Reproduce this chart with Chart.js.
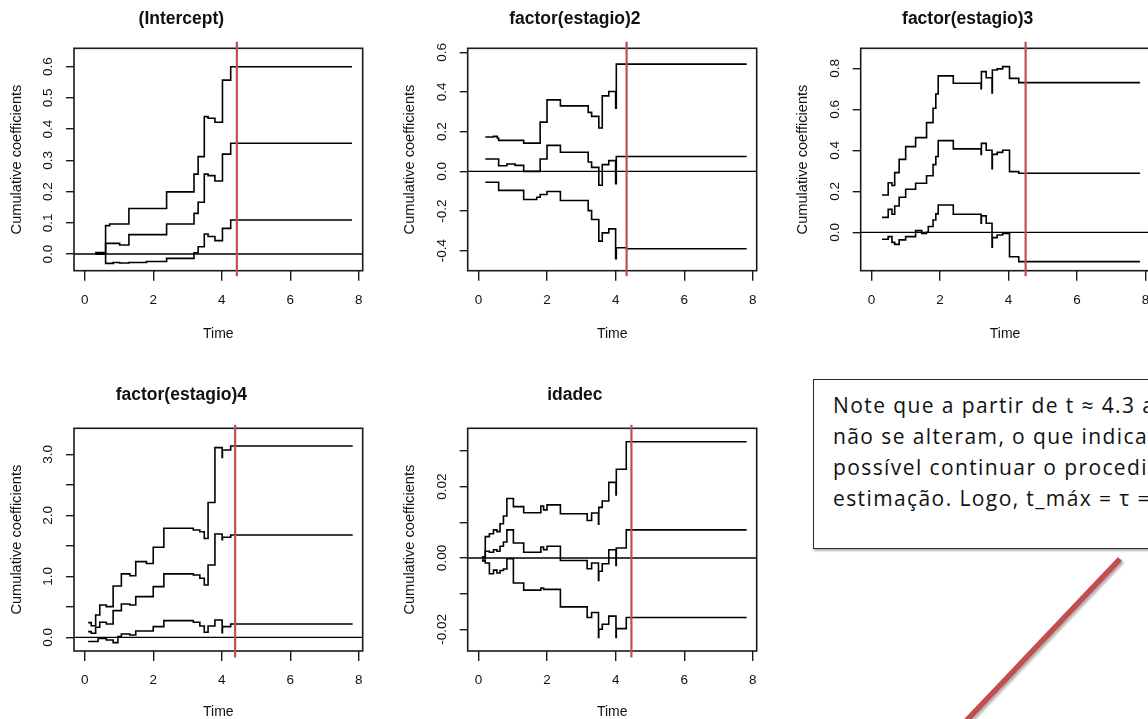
<!DOCTYPE html>
<html>
<head>
<meta charset="utf-8">
<script src="https://cdn.jsdelivr.net/npm/chart.js@4.4.0/dist/chart.umd.min.js"></script>
<style>
  html, body { margin: 0; padding: 0; background: #fff; }
  body { width: 1148px; height: 719px; overflow: hidden; position: relative; }
  canvas { position: absolute; }
  .note {
    position: absolute; left: 813px; top: 379px; width: 480px; height: 170px;
    box-sizing: border-box; border: 1.5px solid #2a2a2a;
    box-shadow: 1px 2px 2px rgba(0,0,0,0.3);
    padding: 10px 0 0 19px;
    font-family: "Open Sans", Lato, sans-serif; font-size: 21px; line-height: 31px;
    letter-spacing: 1.4px;
    color: #111; white-space: nowrap; background: #fff;
  }
  svg.arrow { position: absolute; left: 0; top: 0; }
</style>
</head>
<body>

<div class="note">
  <div>Note que a partir de t ≈ 4.3 as estimativas</div>
  <div>não se alteram, o que indica que não é</div>
  <div>possível continuar o procedimento de</div>
  <div>estimação. Logo, t_máx = τ = 4.3.</div>
</div>

<svg class="arrow" width="1148" height="719">
  <defs>
    <filter id="shadow" x="-20%" y="-20%" width="140%" height="140%">
      <feDropShadow dx="2" dy="2" stdDeviation="1.2" flood-color="#000" flood-opacity="0.3"/>
    </filter>
  </defs>
  <line x1="1120" y1="559" x2="948" y2="740" stroke="#c0504d" stroke-width="5.5" filter="url(#shadow)"/>
</svg>

<script>
// ---- data ----
const xTicks = [0, 2, 4, 6, 8];
const xTickLabels = ['0', '2', '4', '6', '8'];
const xMin = -0.312;
const xMax = 8.112;

// (Intercept)
const interceptTime  = [0.30, 0.61, 0.73, 0.83, 1.02, 1.29, 1.80, 2.39, 3.19, 3.31, 3.49, 3.60, 3.80, 4.02, 4.26, 7.80];
const interceptUpper = [0.005, 0.091, 0.096, 0.096, 0.096, 0.146, 0.146, 0.199, 0.256, 0.312, 0.440, 0.435, 0.422, 0.557, 0.600, 0.600];
const interceptEst   = [0.002, 0.034, 0.034, 0.034, 0.029, 0.062, 0.062, 0.096, 0.130, 0.166, 0.256, 0.251, 0.234, 0.320, 0.355, 0.355];
const interceptLower = [-0.001, -0.030, -0.030, -0.027, -0.029, -0.027, -0.024, -0.014, 0.004, 0.023, 0.064, 0.056, 0.043, 0.082, 0.109, 0.109];
const interceptYTicks  = [0, 0.1, 0.2, 0.3, 0.4, 0.5, 0.6];
const interceptYLabels = ['0.0', '0.1', '0.2', '0.3', '0.4', '0.5', '0.6'];

// factor(estagio)2
const est2Time  = [0.20, 0.44, 0.55, 0.59, 0.83, 1.07, 1.32, 1.70, 1.80, 2.00, 2.39, 3.20, 3.30, 3.51, 3.61, 3.80, 4.00, 4.02, 4.32, 7.82];
const est2Upper = [0.173, 0.176, 0.168, 0.156, 0.156, 0.156, 0.142, 0.142, 0.248, 0.360, 0.330, 0.297, 0.277, 0.218, 0.380, 0.402, 0.318, 0.540, 0.540, 0.540];
const est2Est   = [0.062, 0.062, 0.062, 0.028, 0.037, 0.030, 0.000, 0.000, 0.062, 0.131, 0.096, 0.047, 0.020, -0.070, 0.034, 0.054, -0.062, 0.075, 0.075, 0.075];
const est2Lower = [-0.055, -0.055, -0.055, -0.096, -0.096, -0.096, -0.142, -0.131, -0.117, -0.102, -0.147, -0.198, -0.243, -0.352, -0.310, -0.290, -0.440, -0.385, -0.390, -0.390];
const est2YTicks  = [-0.4, -0.2, 0, 0.2, 0.4, 0.6];
const est2YLabels = ['-0.4', '-0.2', '0.0', '0.2', '0.4', '0.6'];

// factor(estagio)3
const est3Time  = [0.31, 0.49, 0.60, 0.68, 0.81, 1.00, 1.29, 1.47, 1.61, 1.66, 1.80, 1.88, 1.95, 2.39, 3.20, 3.21, 3.35, 3.52, 3.53, 3.67, 3.83, 4.03, 4.30, 7.84];
const est3Upper = [0.182, 0.242, 0.228, 0.291, 0.356, 0.418, 0.462, 0.462, 0.535, 0.535, 0.605, 0.675, 0.763, 0.727, 0.700, 0.784, 0.754, 0.680, 0.792, 0.797, 0.808, 0.751, 0.730, 0.730];
const est3Est   = [0.073, 0.112, 0.088, 0.128, 0.171, 0.210, 0.239, 0.239, 0.276, 0.276, 0.330, 0.370, 0.447, 0.407, 0.380, 0.434, 0.400, 0.310, 0.380, 0.390, 0.400, 0.296, 0.288, 0.288];
const est3Lower = [-0.034, -0.021, -0.049, -0.059, -0.037, -0.021, 0.008, -0.005, 0.000, 0.028, 0.060, 0.090, 0.133, 0.088, 0.044, 0.080, 0.044, -0.073, -0.026, -0.013, -0.005, -0.119, -0.143, -0.143];
const est3YTicks  = [0, 0.2, 0.4, 0.6, 0.8];
const est3YLabels = ['0.0', '0.2', '0.4', '0.6', '0.8'];

// factor(estagio)4
const est4Time  = [0.10, 0.19, 0.32, 0.39, 0.44, 0.63, 0.83, 0.97, 1.07, 1.32, 1.49, 1.80, 2.00, 2.31, 3.17, 3.36, 3.49, 3.60, 3.80, 4.01, 4.02, 4.26, 7.82];
const est4Upper = [0.240, 0.190, 0.366, 0.366, 0.530, 0.503, 0.840, 0.840, 1.040, 1.010, 1.240, 1.210, 1.475, 1.787, 1.760, 1.730, 1.620, 2.210, 3.110, 2.950, 3.070, 3.137, 3.137];
const est4Est   = [0.093, 0.066, 0.164, 0.164, 0.246, 0.219, 0.437, 0.437, 0.546, 0.530, 0.667, 0.667, 0.830, 1.040, 1.020, 0.967, 0.858, 1.186, 1.694, 1.600, 1.640, 1.678, 1.678];
const est4Lower = [-0.070, -0.070, -0.070, -0.020, -0.020, -0.044, -0.087, 0.011, 0.055, 0.038, 0.104, 0.104, 0.175, 0.273, 0.246, 0.186, 0.082, 0.186, 0.284, 0.077, 0.175, 0.219, 0.219];
const est4YTicks  = [0, 0.5, 1, 1.5, 2, 2.5, 3];
const est4YLabels = ['0.0', '', '1.0', '', '2.0', '', '3.0'];

// idadec
const idadeTime  = [0.10, 0.20, 0.32, 0.44, 0.54, 0.63, 0.73, 0.83, 1.02, 1.32, 1.82, 1.90, 2.00, 2.39, 3.17, 3.30, 3.50, 3.51, 3.61, 3.80, 4.01, 4.02, 4.31, 7.82];
const idadeUpper = [0.0003, 0.0060, 0.0068, 0.0079, 0.0074, 0.0096, 0.0118, 0.0167, 0.0144, 0.0127, 0.0146, 0.0135, 0.0149, 0.0124, 0.0105, 0.0126, 0.0095, 0.0142, 0.0160, 0.0212, 0.0177, 0.0249, 0.0326, 0.0326];
const idadeEst   = [-0.0003, 0.0019, 0.0016, 0.0023, 0.0019, 0.0033, 0.0045, 0.0079, 0.0042, 0.0016, 0.0031, 0.0023, 0.0033, -0.0007, -0.0030, -0.0014, -0.0063, -0.0037, -0.0016, 0.0023, -0.0021, 0.0028, 0.0079, 0.0079];
const idadeLower = [-0.0008, -0.0014, -0.0044, -0.0034, -0.0042, -0.0035, -0.0031, -0.0002, -0.0070, -0.0090, -0.0084, -0.0088, -0.0088, -0.0137, -0.0167, -0.0153, -0.0223, -0.0200, -0.0186, -0.0163, -0.0223, -0.0198, -0.0167, -0.0167];
const idadeYTicks  = [-0.02, -0.01, 0, 0.01, 0.02, 0.03];
const idadeYLabels = ['-0.02', '', '0.00', '', '0.02', ''];

// red vertical line (tau) per panel
const cutoffs = [4.44, 4.32, 4.50, 4.39, 4.46];

// ---- panels: data + where each sits on the page ----
const panels = [
  { title: '(Intercept)', time: interceptTime, upper: interceptUpper, est: interceptEst, lower: interceptLower,
    yTicks: interceptYTicks, yLabels: interceptYLabels, yMin: -0.0535, yMax: 0.659, cutoff: cutoffs[0],
    box: { x: 0, y: 0, w: 393, h: 350 }, plot: [74, 48.3, 362.7, 270.7], titleY: 19.5, xTitleY: 334, redExt: [6.5, 5.5] },
  { title: 'factor(estagio)2', time: est2Time, upper: est2Upper, est: est2Est, lower: est2Lower,
    yTicks: est2YTicks, yLabels: est2YLabels, yMin: -0.5008, yMax: 0.620, cutoff: cutoffs[1],
    box: { x: 393, y: 0, w: 393, h: 350 }, plot: [467.7, 48.3, 756.7, 270.7], titleY: 19.5, xTitleY: 334, redExt: [6.5, 5.5] },
  { title: 'factor(estagio)3', time: est3Time, upper: est3Upper, est: est3Est, lower: est3Lower,
    yTicks: est3YTicks, yLabels: est3YLabels, yMin: -0.1873, yMax: 0.8976, cutoff: cutoffs[2],
    box: { x: 786, y: 0, w: 393, h: 350 }, plot: [860.7, 48.3, 1149.4, 270.7], titleY: 19.5, xTitleY: 334, redExt: [6.5, 5.5] },
  { title: 'factor(estagio)4', time: est4Time, upper: est4Upper, est: est4Est, lower: est4Lower,
    yTicks: est4YTicks, yLabels: est4YLabels, yMin: -0.2246, yMax: 3.426, cutoff: cutoffs[3],
    box: { x: 0, y: 380, w: 393, h: 339 }, plot: [74, 428.3, 362.7, 651], titleY: 395.5, xTitleY: 712, redExt: [3.5, 6.5] },
  { title: 'idadec', time: idadeTime, upper: idadeUpper, est: idadeEst, lower: idadeLower,
    yTicks: idadeYTicks, yLabels: idadeYLabels, yMin: -0.02609, yMax: 0.03638, cutoff: cutoffs[4],
    box: { x: 393, y: 380, w: 393, h: 339 }, plot: [467.7, 428.3, 756.7, 651], titleY: 395.5, xTitleY: 712, redExt: [3.5, 6.5] }
];

const FONT = 'Liberation Sans';
const TITLE_SIZE = 17.5;
const XLAB_SIZE = 14;
const YLAB_SIZE = 14.6;
const TICK_SIZE = 13.5;
const INK = '#111';

// frame around the plot region + the red tau line
const framePlugin = {
  id: 'frame',
  afterDatasetsDraw(chart, args, opts) {
    const { ctx, chartArea: a } = chart;
    ctx.save();
    ctx.strokeStyle = '#1a1a1a';
    ctx.lineWidth = 1.6;
    ctx.strokeRect(a.left, a.top, a.right - a.left, a.bottom - a.top);
    const px = chart.scales.x.getPixelForValue(opts.cutoff);
    ctx.strokeStyle = '#c0504d';
    ctx.lineWidth = 2.2;
    ctx.beginPath();
    ctx.moveTo(px, a.top - opts.ext[0]);
    ctx.lineTo(px, a.bottom + opts.ext[1]);
    ctx.stroke();
    ctx.restore();
  }
};

const measureCtx = document.createElement('canvas').getContext('2d');
measureCtx.font = TICK_SIZE + 'px "' + FONT + '"';

function series(time, values) {
  return time.map((t, i) => ({ x: t, y: values[i] }));
}

function buildPanel(p) {
  const canvas = document.createElement('canvas');
  canvas.width = p.box.w;
  canvas.height = p.box.h;
  canvas.style.left = p.box.x + 'px';
  canvas.style.top = p.box.y + 'px';
  document.body.appendChild(canvas);

  const L = p.plot[0] - p.box.x;
  const T = p.plot[1] - p.box.y;
  const R = p.plot[2] - p.box.x;
  const B = p.plot[3] - p.box.y;

  const titleLine = TITLE_SIZE * 1.2;
  const titlePadTop = (p.titleY - p.box.y) - titleLine / 2;
  const titlePadBottom = T - titlePadTop - titleLine;
  const xTitlePad = p.box.h - (p.xTitleY - p.box.y) - XLAB_SIZE * 1.2 / 2;

  // centre the rotated y tick labels about 25px left of the frame
  const widest = Math.max(...p.yLabels.map(s => measureCtx.measureText(s).width));
  const yTickPad = Math.max(0, 17.3 - widest / 2);

  const stepLine = (data) => ({
    data, stepped: 'before', borderColor: '#000', borderWidth: 1.6,
    pointRadius: 0, fill: false, tension: 0
  });

  return new Chart(canvas, {
    type: 'line',
    data: {
      datasets: [
        stepLine(series(p.time, p.upper)),
        stepLine(series(p.time, p.est)),
        stepLine(series(p.time, p.lower)),
        { data: [{ x: xMin, y: 0 }, { x: xMax, y: 0 }], borderColor: '#000', borderWidth: 1.3, pointRadius: 0 }
      ]
    },
    options: {
      responsive: false,
      animation: false,
      devicePixelRatio: 1,
      layout: { padding: { left: 0, top: 0, right: p.box.w - R, bottom: 0 } },
      plugins: {
        legend: { display: false },
        tooltip: { enabled: false },
        title: {
          display: true, text: p.title, color: INK,
          font: { family: FONT, size: TITLE_SIZE, weight: 'bold' },
          padding: { top: titlePadTop, bottom: titlePadBottom }
        },
        frame: { cutoff: p.cutoff, ext: p.redExt }
      },
      scales: {
        x: {
          type: 'linear', min: xMin, max: xMax,
          afterBuildTicks: s => { s.ticks = xTicks.map(v => ({ value: v })); },
          afterFit: s => { s.height = p.box.h - B; },
          grid: { drawOnChartArea: false, drawTicks: true, tickLength: 10, color: '#1a1a1a', lineWidth: 1.4 },
          border: { display: false },
          ticks: {
            autoSkip: false, maxRotation: 0, padding: 11, color: INK,
            font: { family: FONT, size: TICK_SIZE },
            callback: (v, i) => xTickLabels[i]
          },
          title: {
            display: true, text: 'Time', color: INK,
            font: { family: FONT, size: XLAB_SIZE },
            padding: { top: 0, bottom: xTitlePad }
          }
        },
        y: {
          type: 'linear', min: p.yMin, max: p.yMax,
          afterBuildTicks: s => { s.ticks = p.yTicks.map(v => ({ value: v })); },
          afterFit: s => { s.width = L; },
          grid: { drawOnChartArea: false, drawTicks: true, tickLength: 8, color: '#1a1a1a', lineWidth: 1.4 },
          border: { display: false },
          ticks: {
            autoSkip: false, minRotation: 90, maxRotation: 90, crossAlign: 'center',
            padding: yTickPad, color: INK,
            font: { family: FONT, size: TICK_SIZE },
            callback: (v, i) => p.yLabels[i]
          },
          title: {
            display: true, text: 'Cumulative coefficients', color: INK,
            font: { family: FONT, size: YLAB_SIZE },
            padding: { top: 16.6 - YLAB_SIZE * 1.2 / 2, bottom: 0 }
          }
        }
      }
    },
    plugins: [framePlugin]
  });
}

panels.forEach(buildPanel);
</script>
</body>
</html>
